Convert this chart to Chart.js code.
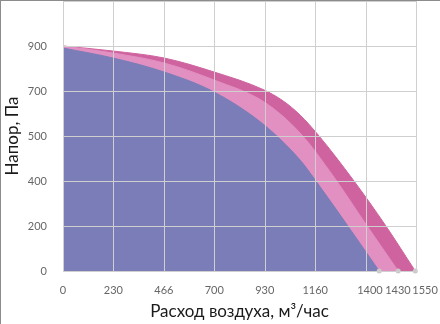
<!DOCTYPE html>
<html>
<head>
<meta charset="utf-8">
<script src="https://cdn.jsdelivr.net/npm/chart.js@4/dist/chart.umd.min.js"></script>
<style>
  html, body { margin: 0; padding: 0; background: #fff; }
  #wrap {
    width: 439px; height: 323px;
    border-top: 1px solid #8c8c8c;
    border-left: 1px solid #8c8c8c;
  }
</style>
</head>
<body>
<div id="wrap"><canvas id="fanChart" width="439" height="323"></canvas></div>
<script>
// Curves: air flow (m3/h) -> pressure (Pa)
const highFlow = [0, 231, 468, 699, 931, 1019, 1097, 1181, 1343, 1491, 1630];
const highPressure = [900, 880, 852, 796, 724, 680, 624, 544, 364, 184, 0];

const midFlow = [0, 231, 468, 699, 931, 1097, 1250, 1398, 1551];
const midPressure = [900, 872, 832, 764, 676, 552, 380, 192, 0];

const lowFlow = [0, 231, 468, 699, 931, 1097, 1167, 1315, 1463];
const lowPressure = [892, 852, 796, 716, 584, 444, 364, 184, 0];

// Axis ticks
const xGridValues = [0, 233.33, 466.67, 700, 933.33, 1166.67, 1400, 1633.33];
const xLabelValues = [0, 233.33, 466.67, 700, 933.33, 1166.67, 1420, 1550, 1675];
const xTickLabels = ['0', '230', '466', '700', '930', '1160', '1400', '1430', '1550'];
const yTickLabels = ['0', '200', '400', '500', '700', '900', ''];

const gridColor = '#cfcfcf';

function toPoints(xs, ys) {
    return xs.map((x, i) => ({x: x, y: ys[i]}));
}

function curve(label, xs, ys, color) {
    return {
        label: label,
        data: toPoints(xs, ys),
        backgroundColor: color,
        borderColor: color,
        borderWidth: 1,
        fill: 'origin',
        cubicInterpolationMode: 'monotone',
        clip: false,
        pointRadius: ctx => ctx.dataIndex === xs.length - 1 ? 2.5 : 0,
        pointBackgroundColor: '#c9c9c9',
        pointBorderWidth: 0
    };
}

// grid goes over the filled areas
const gridOnTop = {
    id: 'gridOnTop',
    afterDatasetsDraw(chart) {
        const {ctx, chartArea: a, scales: {x, y}} = chart;
        ctx.save();
        ctx.globalAlpha = 1;
        ctx.globalCompositeOperation = 'source-over';
        ctx.setLineDash([]);
        ctx.strokeStyle = gridColor;
        ctx.lineWidth = 1;
        ctx.beginPath();
        xGridValues.forEach(v => {
            const px = Math.round(x.getPixelForValue(v)) + 0.5;
            ctx.moveTo(px, a.top);
            ctx.lineTo(px, a.bottom + 1);
        });
        y.ticks.forEach(t => {
            const py = Math.round(y.getPixelForValue(t.value)) + 0.5;
            ctx.moveTo(a.left, py);
            ctx.lineTo(a.right + 1, py);
        });
        ctx.stroke();
        ctx.restore();
    }
};

const ctx = document.getElementById('fanChart').getContext('2d');
const fanChart = new Chart(ctx, {
    type: 'line',
    data: {
        datasets: [
            curve('low', lowFlow, lowPressure, '#7b7db8'),
            curve('mid', midFlow, midPressure, '#e28fc1'),
            curve('high', highFlow, highPressure, '#cf639f')
        ]
    },
    options: {
        responsive: false,
        animation: false,
        layout: { autoPadding: false, padding: { top: 0, right: 24, left: 0, bottom: 0 } },
        plugins: { legend: { display: false }, tooltip: { enabled: false } },
        scales: {
            x: {
                type: 'linear',
                min: 0,
                max: 1633.33,
                afterBuildTicks: axis => {
                    axis.ticks = xLabelValues.map((v, i) => ({value: v, text: xTickLabels[i]}));
                },
                afterFit: axis => {
                    axis.height = 53;
                    axis.paddingLeft = 0;
                    axis.paddingRight = 0;
                },
                grid: { display: false, drawTicks: false },
                border: { display: false },
                ticks: {
                    autoSkip: false,
                    maxRotation: 0,
                    padding: 13,
                    color: '#666',
                    font: { family: 'Lato', size: 11 },
                    callback: (value, index, ticks) => ticks[index].text
                },
                title: {
                    display: true,
                    text: 'Расход воздуха, м³/час',
                    color: '#1a1a1a',
                    font: { family: 'Lato', size: 17 },
                    padding: { top: 0, bottom: 2 }
                }
            },
            y: {
                type: 'linear',
                min: 0,
                max: 1080,
                afterFit: axis => {
                    axis.width = 62;
                    axis.paddingTop = 0;
                    axis.paddingBottom = 0;
                },
                grid: { display: false, drawTicks: false },
                border: { display: false },
                ticks: {
                    stepSize: 180,
                    padding: 16,
                    color: '#666',
                    font: { family: 'Lato', size: 11 },
                    callback: (value, index) => yTickLabels[index]
                },
                title: {
                    display: true,
                    text: 'Напор, Па',
                    color: '#1a1a1a',
                    font: { family: 'Lato', size: 17 },
                    padding: { top: 1, bottom: 0 }
                }
            }
        }
    },
    plugins: [gridOnTop]
});
</script>
</body>
</html>
